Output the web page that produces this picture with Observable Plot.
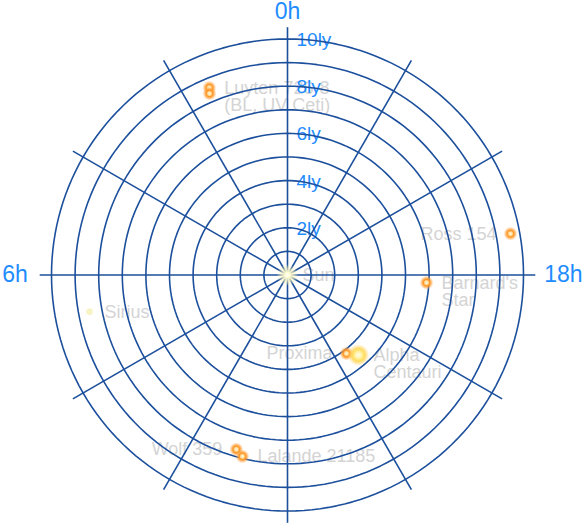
<!DOCTYPE html>
<html><head><meta charset="utf-8">
<script src="https://cdn.jsdelivr.net/npm/d3@7"></script>
<script src="https://cdn.jsdelivr.net/npm/@observablehq/plot@0.6"></script>
<style>html,body{margin:0;padding:0;background:#fff;overflow:hidden} svg{display:block}</style>
</head><body><div id="chart"></div>
<script>
// ---- data ----
const starNames  = ["Sun", "Proxima", "Alpha Centauri", "Barnard's Star", "Wolf 359", "Lalande 21185", "Sirius", "BL Ceti", "UV Ceti", "Ross 154"];
const starLabels = ["Sun", "Proxima", "Alpha\nCentauri", "Barnard's\nStar", "Wolf 359", "Lalande 21185", "Sirius", "Luyten 726-8\n(BL, UV Ceti)", "", "Ross 154"];
const starRA     = [0, 14.46, 14.77, 17.79, 10.91, 11.07, 6.70, 1.51, 1.55, 18.70];   // hours
const starDist   = [0, 4.16, 4.53, 5.90, 7.70, 7.92, 8.53, 8.60, 8.37, 9.61];         // light years
const starClass  = ["Sun", "M", "G", "M", "M", "M", "A", "M", "M", "M"];
const labelSide  = ["right", "left", "right", "right", "left", "right", "right", "right", "right", "left"];
const ringDistances = [1, 2, 3, 4, 5, 6, 7, 8, 9, 10];
const ringLabelDistances = [2, 4, 6, 8, 10];
const spokeHours = [0, 2, 4, 6, 8, 10, 12, 14, 16, 18, 20, 22];
const hourLabelHours = [0, 6, 18];

// ---- helpers ----
const ang = h => h * Math.PI / 12;
const px = (h, d) => -d * Math.sin(ang(h));
const py = (h, d) => d * Math.cos(ang(h));

const stars = starNames.map((n, i) => ({
  name: n, label: starLabels[i], ra: starRA[i], dist: starDist[i],
  cls: starClass[i], side: labelSide[i],
  x: px(starRA[i], starDist[i]), y: py(starRA[i], starDist[i])
}));

const ringPts = [];
for (const r of ringDistances) for (let a = 0; a <= 360; a += 2) {
  ringPts.push({r, x: px(a / 15, r), y: py(a / 15, r)});
}
const spokeLen = 10.5;
const spokes = spokeHours.map(h => ({h, x2: px(h, spokeLen), y2: py(h, spokeLen)}));
const ringLabels = ringLabelDistances.map(d => ({d, text: d + "ly"}));
const hourLabels = hourLabelHours.map(h => ({h, text: h + "h"}));

const W = 583, H = 526, cx = 287, cy = 274.5, pxPerLy = 23.6;
const gridColor = "#1c4f9c", labelBlue = "#1e8cff", starLabelColor = "#d4d4d4";
const font = "Liberation Sans, Arial, Helvetica, sans-serif";

const svg = Plot.plot({
  width: W, height: H,
  margin: 0,
  style: {fontFamily: font, background: "white"},
  x: {domain: [-cx / pxPerLy, (W - cx) / pxPerLy], range: [0, W], axis: null},
  y: {domain: [-(H - cy) / pxPerLy, cy / pxPerLy], range: [H, 0], axis: null},
  marks: [
    // star labels (beneath the grid)
    Plot.text(stars.filter(d => d.side === "right" && d.label), {
      x: "x", y: "y", text: "label", textAnchor: "start", lineAnchor: "top",
      dx: 15, dy: -6.5, fontSize: 18, lineHeight: 0.97, fill: starLabelColor
    }),
    Plot.text(stars.filter(d => d.side === "left" && d.label), {
      x: "x", y: "y", text: "label", textAnchor: "end", lineAnchor: "top",
      dx: -14, dy: -6.5, fontSize: 18, lineHeight: 0.97, fill: starLabelColor
    }),
    // ring labels
    Plot.text(ringLabels, {
      x: 0, y: "d", text: "text", textAnchor: "start", lineAnchor: "middle",
      dx: 9, dy: 1, fontSize: 19, fill: labelBlue
    }),
    // grid
    Plot.line(ringPts, {x: "x", y: "y", z: "r", stroke: gridColor, strokeWidth: 1.6, curve: "linear"}),
    Plot.link(spokes, {x1: 0, y1: 0, x2: "x2", y2: "y2", stroke: gridColor, strokeWidth: 1.6}),
    // hour labels
    Plot.text(hourLabels.filter(d => d.h === 0), {
      x: d => px(d.h, 11.15), y: d => py(d.h, 11.15), text: "text",
      textAnchor: "middle", lineAnchor: "middle", fontSize: 23, fill: labelBlue
    }),
    Plot.text(hourLabels.filter(d => d.h === 6), {
      x: d => px(d.h, 11.0), y: d => py(d.h, 11.0), text: "text",
      textAnchor: "end", lineAnchor: "middle", fontSize: 23, fill: labelBlue
    }),
    Plot.text(hourLabels.filter(d => d.h === 18), {
      x: d => px(d.h, 10.88), y: d => py(d.h, 10.88), text: "text",
      textAnchor: "start", lineAnchor: "middle", fontSize: 23, fill: labelBlue
    }),
    // stars
    Plot.dot(stars.filter(d => d.cls === "Sun"), {x: "x", y: "y", r: 11, fill: "url(#gSun)", stroke: "none"}),
    Plot.dot(stars.filter(d => d.cls === "A"), {x: "x", y: "y", r: 4.5, fill: "url(#gA)", stroke: "none"}),
    Plot.dot(stars.filter(d => d.cls === "M"), {x: "x", y: "y", r: 7, fill: "url(#gM)", stroke: "none"}),
    Plot.dot(stars.filter(d => d.cls === "G"), {x: "x", y: "y", r: 11, fill: "url(#gG)", stroke: "none"})
  ]
});

const defs = document.createElementNS("http://www.w3.org/2000/svg", "defs");
defs.innerHTML = `
<radialGradient id="gM">
  <stop offset="0" stop-color="#fff6d8"/>
  <stop offset="0.25" stop-color="#ffe2a8"/>
  <stop offset="0.45" stop-color="#ff9520"/>
  <stop offset="0.65" stop-color="#ff9a30" stop-opacity="0.7"/>
  <stop offset="1" stop-color="#ffb060" stop-opacity="0"/>
</radialGradient>
<radialGradient id="gG">
  <stop offset="0" stop-color="#fffdf0"/>
  <stop offset="0.3" stop-color="#fff2a8"/>
  <stop offset="0.55" stop-color="#ffd84a" stop-opacity="0.9"/>
  <stop offset="0.75" stop-color="#ffcf50" stop-opacity="0.5"/>
  <stop offset="1" stop-color="#ffe080" stop-opacity="0"/>
</radialGradient>
<radialGradient id="gA">
  <stop offset="0" stop-color="#fbf6c8"/>
  <stop offset="0.5" stop-color="#f4eeb0" stop-opacity="0.8"/>
  <stop offset="1" stop-color="#f8f2c0" stop-opacity="0"/>
</radialGradient>
<radialGradient id="gSun">
  <stop offset="0" stop-color="#ffffff"/>
  <stop offset="0.25" stop-color="#fffbd0"/>
  <stop offset="0.6" stop-color="#fff8c0" stop-opacity="0.6"/>
  <stop offset="1" stop-color="#fff8c0" stop-opacity="0"/>
</radialGradient>`;
svg.insertBefore(defs, svg.firstChild);
document.getElementById("chart").appendChild(svg);
</script>
</body></html>
